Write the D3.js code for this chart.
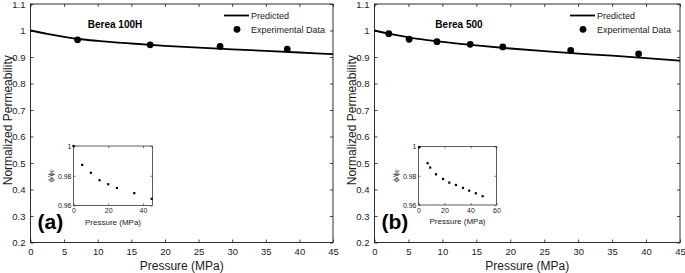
<!DOCTYPE html>
<html><head><meta charset="utf-8">
<script src="https://cdn.jsdelivr.net/npm/d3@7"></script>
<style>
html,body{margin:0;padding:0;background:#fff;}
svg{display:block;font-family:"Liberation Sans",Arial,Helvetica,sans-serif;}
</style></head>
<body>
<svg id="chart" width="685" height="273"></svg>
<script>
// ---------- data ----------
const xTicks = [0,5,10,15,20,25,30,35,40,45];
const yTicks = [0.2,0.3,0.4,0.5,0.6,0.7,0.8,0.9,1,1.1];
const yTickLabels = ["0.2","0.3","0.4","0.5","0.6","0.7","0.8","0.9","1","1.1"];

// Panel (a) Berea 100H
const predAPressure = [0,2.5,5,7.5,10,15,20,25,30,35,40,45];
const predAValue    = [1.000,0.987,0.976,0.967,0.961,0.951,0.942,0.935,0.929,0.923,0.917,0.911];
const expAPressure  = [7,17.8,28.2,38.2];
const expAValue     = [0.965,0.946,0.940,0.930];
const insetAPressure = [0,5,10,15,20,25,35,45];
const insetAPhi      = [1.0,0.9873,0.982,0.977,0.9743,0.9718,0.9683,0.9645];
const insetAXTicks = [0,20,40];

// Panel (b) Berea 500
const predBPressure = [0,2.5,5,7.5,10,15,20,25,30,35,40,45];
const predBValue    = [1.000,0.986,0.974,0.965,0.957,0.944,0.932,0.922,0.913,0.905,0.896,0.886];
const expBPressure  = [2.1,5.1,9.2,14.1,18.9,28.9,38.9];
const expBValue     = [0.988,0.967,0.958,0.948,0.938,0.925,0.912];
const insetBPressure = [0.6,7,9,13.5,18.9,23.7,28.8,34.2,39,44.1,49.3];
const insetBPhi      = [0.9995,0.9886,0.9856,0.981,0.9778,0.9753,0.9737,0.9717,0.9698,0.968,0.966];
const insetBXTicks = [0,20,40,60];

const insetYTicks = [0.96,0.98,1];
const insetYTickLabels = ["0.96","0.98","1"];

// ---------- drawing ----------
const svg = d3.select("#chart");
const INK = "#1a1a1a";

function drawPanel(cfg){
  const g = svg.append("g");
  const x = d3.scaleLinear().domain([0,45]).range([cfg.left, cfg.right]);
  const y = d3.scaleLinear().domain([0.2,1.1]).range([cfg.bottom, cfg.top]);

  // axes (ticks inside)
  const axB = d3.axisBottom(x).tickValues(xTicks).tickSizeInner(-3).tickSizeOuter(0).tickPadding(6).tickFormat(d3.format("d"));
  const axT = d3.axisTop(x).tickValues(xTicks).tickSizeInner(-3).tickSizeOuter(0).tickFormat("");
  const axL = d3.axisLeft(y).tickValues(yTicks).tickSizeInner(-3).tickSizeOuter(0).tickPadding(5).tickFormat((d,i)=>yTickLabels[i]);
  const axR = d3.axisRight(y).tickValues(yTicks).tickSizeInner(-3).tickSizeOuter(0).tickFormat("");
  [[axB,`translate(0,${cfg.bottom})`],[axT,`translate(0,${cfg.top})`],[axL,`translate(${cfg.left},0)`],[axR,`translate(${cfg.right},0)`]]
   .forEach(([a,t])=>{
     const ag = g.append("g").attr("transform",t).call(a);
     ag.select(".domain").remove();
     ag.selectAll("line").attr("stroke",INK).attr("stroke-width",0.8);
     ag.selectAll("text").attr("fill",INK).attr("font-size","9.5px").attr("font-family","Liberation Sans, Arial, sans-serif");
   });
  g.append("rect").attr("x",cfg.left).attr("y",cfg.top)
    .attr("width",cfg.right-cfg.left).attr("height",cfg.bottom-cfg.top)
    .attr("fill","none").attr("stroke",INK).attr("stroke-width",0.9);

  // predicted curve
  const line = d3.line().curve(d3.curveMonotoneX).x(d=>x(d[0])).y(d=>y(d[1]));
  g.append("path").datum(cfg.predP.map((p,i)=>[p,cfg.predV[i]]))
    .attr("d",line).attr("fill","none").attr("stroke","#000").attr("stroke-width",1.8);

  // experimental points
  g.selectAll("circle.exp").data(cfg.expP.map((p,i)=>[p,cfg.expV[i]])).enter()
    .append("circle").attr("class","exp").attr("cx",d=>x(d[0])).attr("cy",d=>y(d[1]))
    .attr("r",3.4).attr("fill","#000");

  // title
  g.append("text").attr("x",cfg.titleX).attr("y",28).attr("text-anchor","middle")
    .attr("font-weight","bold").attr("font-size","10px").attr("fill","#000").text(cfg.title);

  // legend
  const lx = cfg.legendX;
  g.append("line").attr("x1",lx).attr("x2",lx+25).attr("y1",15.5).attr("y2",15.5)
    .attr("stroke","#000").attr("stroke-width",1.8);
  g.append("text").attr("x",lx+27).attr("y",19).attr("font-size","9px").attr("fill",INK).text("Predicted");
  g.append("circle").attr("cx",lx+13).attr("cy",29.3).attr("r",3.4).attr("fill","#000");
  g.append("text").attr("x",lx+27).attr("y",33).attr("font-size","9px").attr("fill",INK).text("Experimental Data");

  // axis titles
  g.append("text").attr("x",(cfg.left+cfg.right)/2).attr("y",270).attr("text-anchor","middle")
    .attr("font-size","12px").attr("fill",INK).text("Pressure (MPa)");
  g.append("text").attr("transform",`translate(${cfg.left-19},${(cfg.top+cfg.bottom)/2-3}) rotate(-90)`)
    .attr("text-anchor","middle").attr("font-size","12px").attr("fill",INK).text("Normalized Permeability");

  // panel letter
  g.append("text").attr("x",cfg.left+7).attr("y",229).attr("font-weight","bold")
    .attr("font-size","21px").attr("fill","#000").text(cfg.letter);

  // inset
  const ix = d3.scaleLinear().domain(cfg.insetDomain).range([cfg.inset.l,cfg.inset.r]);
  const iy = d3.scaleLinear().domain([0.96,1]).range([cfg.inset.b,cfg.inset.t]);
  const ig = g.append("g");
  const iaB = d3.axisBottom(ix).tickValues(cfg.insetXTicks).tickSizeInner(-2).tickSizeOuter(0).tickPadding(3).tickFormat(d3.format("d"));
  const iaL = d3.axisLeft(iy).tickValues(insetYTicks).tickSizeInner(-2).tickSizeOuter(0).tickPadding(2).tickFormat((d,i)=>insetYTickLabels[i]);
  const iaT = d3.axisTop(ix).tickValues(cfg.insetXTicks).tickSizeInner(-2).tickSizeOuter(0).tickFormat("");
  const iaR = d3.axisRight(iy).tickValues(insetYTicks).tickSizeInner(-2).tickSizeOuter(0).tickFormat("");
  [[iaB,`translate(0,${cfg.inset.b})`],[iaL,`translate(${cfg.inset.l},0)`],[iaT,`translate(0,${cfg.inset.t})`],[iaR,`translate(${cfg.inset.r},0)`]]
   .forEach(([a,t])=>{
     const ag = ig.append("g").attr("transform",t).call(a);
     ag.select(".domain").remove();
     ag.selectAll("line").attr("stroke",INK).attr("stroke-width",0.6);
     ag.selectAll("text").attr("fill",INK).attr("font-size","7px").attr("font-family","Liberation Sans, Arial, sans-serif");
   });
  ig.append("rect").attr("x",cfg.inset.l).attr("y",cfg.inset.t)
    .attr("width",cfg.inset.r-cfg.inset.l).attr("height",cfg.inset.b-cfg.inset.t)
    .attr("fill","none").attr("stroke",INK).attr("stroke-width",0.7);
  ig.selectAll("rect.ipt").data(cfg.insetP.map((p,i)=>[p,cfg.insetV[i]])).enter()
    .append("rect").attr("class","ipt").attr("x",d=>ix(d[0])-1.1).attr("y",d=>iy(d[1])-1.1)
    .attr("width",2.2).attr("height",2.2).attr("fill","#000");
  ig.append("text").attr("x",(cfg.inset.l+cfg.inset.r)/2).attr("y",cfg.inset.b+19)
    .attr("text-anchor","middle").attr("font-size","8px").attr("fill",INK).text("Pressure (MPa)");
  const yl = ig.append("text").attr("transform",`translate(${cfg.inset.l-21},${(cfg.inset.t+cfg.inset.b)/2}) rotate(-90)`)
    .attr("text-anchor","middle").attr("font-size","7px").attr("fill",INK);
  yl.append("tspan").text("ϕ/ϕ");
  yl.append("tspan").attr("font-size","5px").attr("dy","1.5").text("0");
}

drawPanel({
  left:30.5, right:333, top:4, bottom:242.5,
  predP:predAPressure, predV:predAValue, expP:expAPressure, expV:expAValue,
  title:"Berea 100H", titleX:115, legendX:224, letter:"(a)",
  inset:{l:73.5,r:152.5,t:146,b:205.5}, insetDomain:[0,45.5], insetXTicks:insetAXTicks,
  insetP:insetAPressure, insetV:insetAPhi
});
drawPanel({
  left:374.5, right:680, top:4, bottom:242.5,
  predP:predBPressure, predV:predBValue, expP:expBPressure, expV:expBValue,
  title:"Berea 500", titleX:459, legendX:570, letter:"(b)",
  inset:{l:418.5,r:496.5,t:146.5,b:205}, insetDomain:[0,60], insetXTicks:insetBXTicks,
  insetP:insetBPressure, insetV:insetBPhi
});
</script>
</body></html>
